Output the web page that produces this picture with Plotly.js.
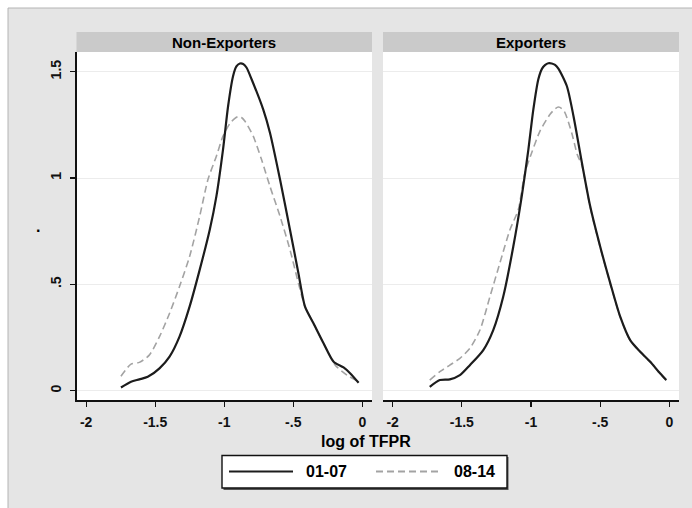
<!DOCTYPE html>
<html><head><meta charset="utf-8">
<script src="https://cdn.plot.ly/plotly-3.0.1.min.js"></script>
<style>html,body{margin:0;padding:0;background:#fff}</style>
</head><body><div id="chart" style="width:692px;height:508px"></div>
<script>
// ---- data ----
const panelTitles = ["Non-Exporters", "Exporters"];
const seriesNames = ["01-07", "08-14"];
const xTickVals = [-2, -1.5, -1, -0.5, 0];
const xTickText = ["-2", "-1.5", "-1", "-.5", "0"];
const yTickVals = [0, 0.5, 1, 1.5];
const yTickText = ["0", ".5", "1", "1.5"];
const xAxisTitle = "log of TFPR";
const yAxisTitle = ".";

// Non-Exporters, 01-07
const nonExpX_0107 = [-1.748,-1.675,-1.615,-1.554,-1.469,-1.396,-1.324,-1.251,-1.178,-1.105,-1.057,-1.009,-0.972,-0.936,-0.912,-0.887,-0.863,-0.839,-0.802,-0.718,-0.669,-0.596,-0.524,-0.463,-0.415,-0.354,-0.281,-0.208,-0.136,-0.087,-0.027];
const nonExpY_0107 = [0.015,0.042,0.053,0.065,0.105,0.160,0.254,0.395,0.568,0.757,0.914,1.134,1.339,1.480,1.525,1.539,1.537,1.520,1.465,1.323,1.213,0.993,0.757,0.553,0.395,0.317,0.223,0.136,0.109,0.081,0.037];
// Non-Exporters, 08-14
const nonExpX_0814 = [-1.748,-1.675,-1.615,-1.543,-1.469,-1.396,-1.324,-1.251,-1.178,-1.118,-1.057,-1.009,-0.960,-0.925,-0.900,-0.875,-0.851,-0.790,-0.730,-0.669,-0.596,-0.524,-0.463,-0.415,-0.354,-0.281,-0.196,-0.111,-0.027];
const nonExpY_0814 = [0.068,0.125,0.133,0.167,0.254,0.364,0.490,0.631,0.820,0.993,1.103,1.197,1.256,1.280,1.289,1.285,1.268,1.197,1.087,0.961,0.820,0.663,0.506,0.395,0.317,0.223,0.120,0.073,0.042];
// Exporters, 01-07
const expX_0107 = [-1.732,-1.659,-1.587,-1.514,-1.442,-1.345,-1.273,-1.201,-1.128,-1.067,-1.019,-0.983,-0.947,-0.920,-0.899,-0.875,-0.850,-0.826,-0.802,-0.741,-0.693,-0.632,-0.572,-0.500,-0.427,-0.355,-0.283,-0.210,-0.138,-0.077,-0.022];
const expY_0107 = [0.018,0.050,0.053,0.073,0.120,0.191,0.285,0.442,0.678,0.914,1.134,1.323,1.465,1.515,1.531,1.540,1.539,1.532,1.515,1.433,1.292,1.072,0.867,0.678,0.506,0.348,0.238,0.183,0.136,0.089,0.050];
// Exporters, 08-14
const expX_0814 = [-1.732,-1.659,-1.587,-1.514,-1.442,-1.369,-1.297,-1.225,-1.152,-1.092,-1.044,-0.995,-0.935,-0.862,-0.825,-0.802,-0.778,-0.754,-0.706,-0.665,-0.632,-0.572,-0.500,-0.427,-0.355,-0.283,-0.210,-0.138,-0.077,-0.022];
const expY_0814 = [0.050,0.089,0.120,0.152,0.199,0.285,0.442,0.600,0.757,0.851,1.025,1.119,1.221,1.300,1.326,1.334,1.327,1.307,1.213,1.110,1.060,0.862,0.675,0.503,0.346,0.236,0.181,0.134,0.087,0.048];

// ---- helpers (pixel -> paper) ----
const W = 692, H = 508;
const px = v => v / W;
const py = v => 1 - v / H;

const solidStyle = {color: "#1c1c1c", width: 2.2, shape: "spline", smoothing: 0.7};
const dashStyle = {color: "#a3a3a3", width: 1.6, dash: "7px,4px", shape: "spline", smoothing: 0.7};

const traces = [
  {x: nonExpX_0814, y: nonExpY_0814, name: seriesNames[1], mode: "lines", line: dashStyle, xaxis: "x", yaxis: "y", showlegend: false, hoverinfo: "skip"},
  {x: nonExpX_0107, y: nonExpY_0107, name: seriesNames[0], mode: "lines", line: solidStyle, xaxis: "x", yaxis: "y", showlegend: false, hoverinfo: "skip"},
  {x: expX_0814, y: expY_0814, name: seriesNames[1], mode: "lines", line: dashStyle, xaxis: "x2", yaxis: "y2", showlegend: false, hoverinfo: "skip"},
  {x: expX_0107, y: expY_0107, name: seriesNames[0], mode: "lines", line: solidStyle, xaxis: "x2", yaxis: "y2", showlegend: false, hoverinfo: "skip"}
];

const FONT = "Liberation Sans, Arial, sans-serif";
const tickFont = {family: FONT, size: 14, color: "#111", weight: "bold"};
const yDomain = [py(400), py(52)];
const yRange = [-0.044, 1.593];

const xCommon = {
  range: [-2.07, 0.07], tickvals: xTickVals, ticktext: xTickText,
  showline: true, linecolor: "#111", linewidth: 1.6, ticks: "outside", ticklen: 5, tickwidth: 1.3, tickcolor: "#111",
  ticklabelstandoff: 4,
  showgrid: false, zeroline: false, tickfont: tickFont, fixedrange: true
};
const yCommon = {
  range: yRange, domain: yDomain, tickvals: yTickVals, showgrid: true, gridcolor: "#ececec", gridwidth: 1,
  zeroline: false, fixedrange: true
};

const layout = {
  width: W, height: H,
  margin: {l: 0, r: 0, t: 0, b: 0},
  paper_bgcolor: "#e5e5e5", plot_bgcolor: "#ffffff",
  showlegend: false,
  xaxis: Object.assign({}, xCommon, {domain: [px(76.5), px(372)], anchor: "y"}),
  xaxis2: Object.assign({}, xCommon, {domain: [px(383), px(679)], anchor: "y2"}),
  yaxis: Object.assign({}, yCommon, {anchor: "x", ticktext: yTickText, showline: true, linecolor: "#111", linewidth: 1.6,
    ticks: "outside", ticklen: 5, tickwidth: 1.3, tickcolor: "#111", tickangle: -90, tickfont: tickFont, ticklabelstandoff: 3}),
  yaxis2: Object.assign({}, yCommon, {anchor: "x2", showline: false, showticklabels: false, ticks: ""}),
  shapes: [
    // white outer margin (top and left)
    {type: "rect", xref: "paper", yref: "paper", x0: 0, x1: 1, y0: py(8), y1: 1, fillcolor: "#ffffff", line: {width: 0}, layer: "below"},
    {type: "rect", xref: "paper", yref: "paper", x0: 0, x1: px(8), y0: 0, y1: 1, fillcolor: "#ffffff", line: {width: 0}, layer: "below"},
    {type: "line", xref: "paper", yref: "paper", x0: px(8), x1: 1, y0: py(8), y1: py(8), line: {color: "#b4b4b4", width: 1}},
    {type: "line", xref: "paper", yref: "paper", x0: px(8), x1: px(8), y0: py(8), y1: 0, line: {color: "#b4b4b4", width: 1}},
    // strips
    {type: "rect", xref: "paper", yref: "paper", x0: px(76.5), x1: px(372), y0: py(52), y1: py(32), fillcolor: "#cacaca", line: {width: 0}},
    {type: "rect", xref: "paper", yref: "paper", x0: px(383), x1: px(679), y0: py(52), y1: py(32), fillcolor: "#cacaca", line: {width: 0}},
    // legend box
    {type: "rect", xref: "paper", yref: "paper", x0: px(223.5), x1: px(508.5), y0: py(490), y1: py(457), fillcolor: "#555555", line: {width: 0}},
    {type: "rect", xref: "paper", yref: "paper", x0: px(222), x1: px(507), y0: py(488), y1: py(455.5), fillcolor: "#ffffff", line: {color: "#111", width: 1.4}},
    {type: "line", xref: "paper", yref: "paper", x0: px(229), x1: px(293), y0: py(471.5), y1: py(471.5), line: {color: solidStyle.color, width: 2.2}},
    {type: "line", xref: "paper", yref: "paper", x0: px(376), x1: px(442), y0: py(471.5), y1: py(471.5), line: {color: dashStyle.color, width: 1.8, dash: "7px,4px"}}
  ],
  annotations: [
    {text: panelTitles[0], xref: "paper", yref: "paper", x: px(224), y: py(42.5), xanchor: "center", yanchor: "middle", showarrow: false,
      font: {family: FONT, size: 15, color: "#000", weight: "bold"}},
    {text: panelTitles[1], xref: "paper", yref: "paper", x: px(531), y: py(42.5), xanchor: "center", yanchor: "middle", showarrow: false,
      font: {family: FONT, size: 15, color: "#000", weight: "bold"}},
    {text: xAxisTitle, xref: "paper", yref: "paper", x: px(366), y: py(441), xanchor: "center", yanchor: "middle", showarrow: false,
      font: {family: FONT, size: 16, color: "#000", weight: "bold"}},
    {text: yAxisTitle, xref: "paper", yref: "paper", x: px(38), y: py(226), xanchor: "center", yanchor: "middle", showarrow: false,
      font: {family: FONT, size: 16, color: "#000", weight: "bold"}},
    {text: seriesNames[0], xref: "paper", yref: "paper", x: px(304), y: py(471.5), xanchor: "left", yanchor: "middle", showarrow: false,
      font: {family: FONT, size: 16, color: "#000", weight: "bold"}},
    {text: seriesNames[1], xref: "paper", yref: "paper", x: px(452), y: py(471.5), xanchor: "left", yanchor: "middle", showarrow: false,
      font: {family: FONT, size: 16, color: "#000", weight: "bold"}}
  ]
};

Plotly.newPlot("chart", traces, layout, {displayModeBar: false, staticPlot: true});
</script>
</body></html>
